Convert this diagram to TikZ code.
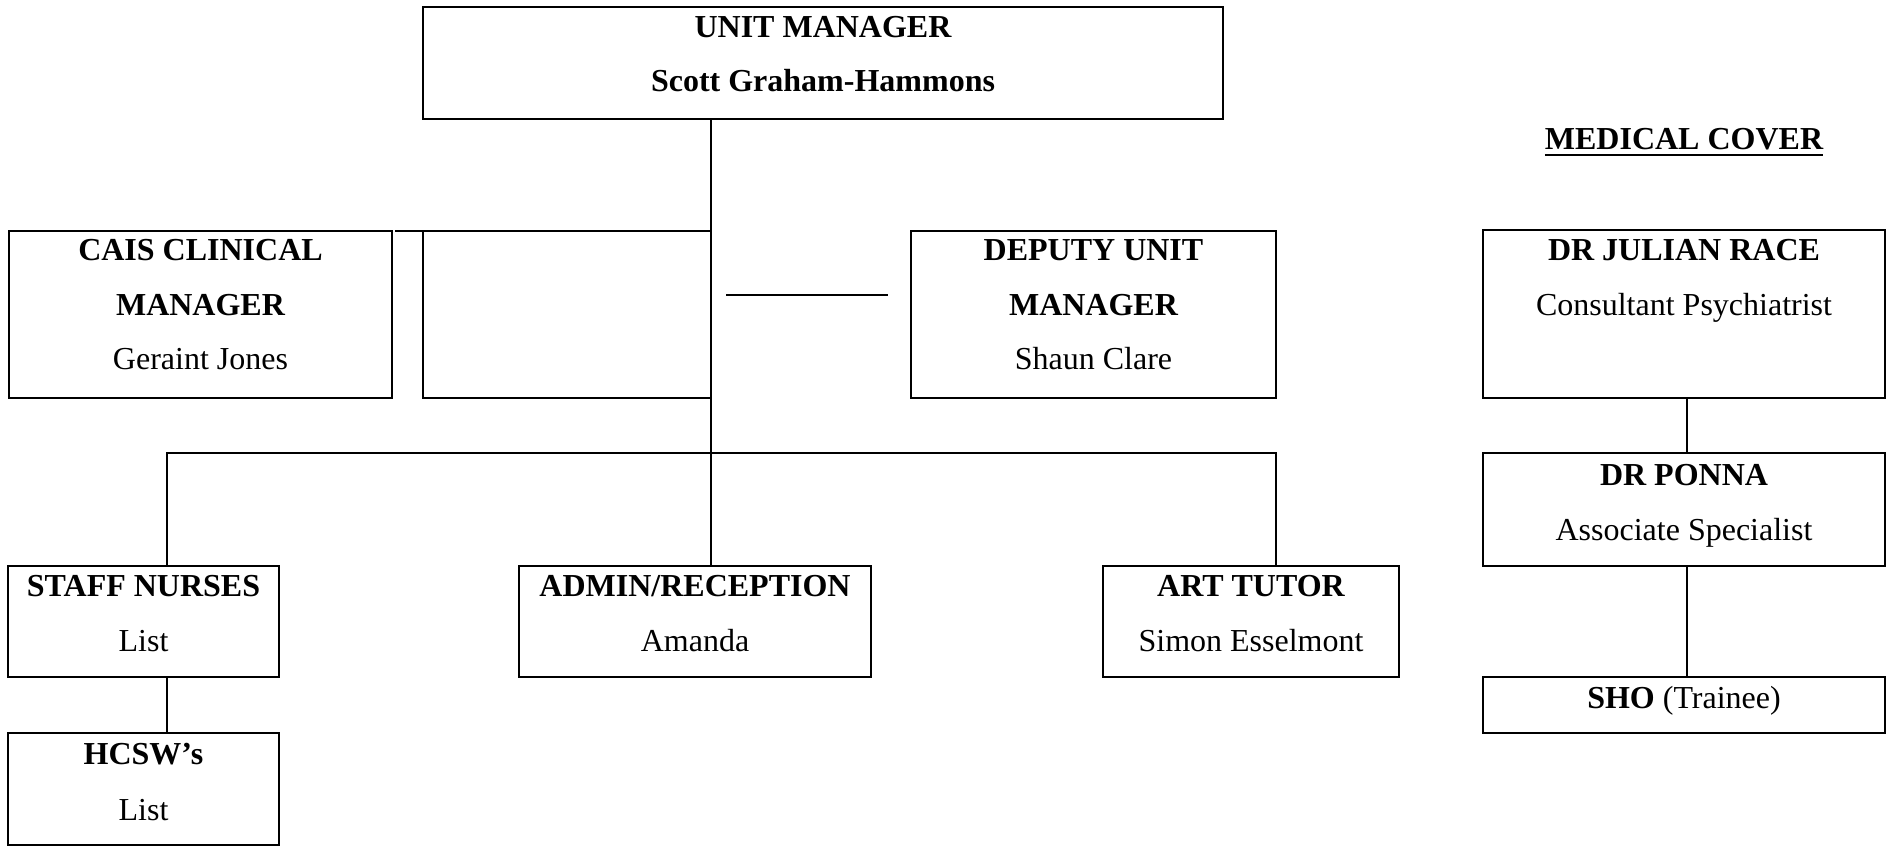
\documentclass[tikz,border=0pt]{standalone}
\usepackage{fontspec}
\setmainfont{Liberation Serif}
\begin{document}
\begin{tikzpicture}[x=1pt,y=-1pt,
  box/.style={draw=black,line width=2pt,inner sep=0pt,outer sep=0pt,anchor=north west},
  conn/.style={draw=black,line width=2pt},
  txt/.style={inner sep=0pt,outer sep=0pt,anchor=base,font=\fontsize{32}{38}\selectfont},
  btxt/.style={txt,font=\fontsize{32}{38}\selectfont\bfseries}]
\useasboundingbox (0,0) rectangle (1889,846);
\fill[white] (0,0) rectangle (1889,846);
% boxes
\node[box,minimum width=800pt,minimum height=112pt] (um) at (423,7) {};
\node[box,minimum width=383pt,minimum height=167pt] (cais) at (9,231) {};
\node[box,minimum width=288pt,minimum height=167pt] (blank) at (423,231) {};
\node[box,minimum width=365pt,minimum height=167pt] (dep) at (911,231) {};
\node[box,minimum width=271pt,minimum height=111pt] (staff) at (8,566) {};
\node[box,minimum width=352pt,minimum height=111pt] (admin) at (519,566) {};
\node[box,minimum width=296pt,minimum height=111pt] (art) at (1103,566) {};
\node[box,minimum width=271pt,minimum height=112pt] (hcsw) at (8,733) {};
\node[box,minimum width=402pt,minimum height=168pt] (julian) at (1483,230) {};
\node[box,minimum width=402pt,minimum height=113pt] (ponna) at (1483,453) {};
\node[box,minimum width=402pt,minimum height=56pt] (sho) at (1483,677) {};
% texts
\node[btxt] (um1) at (823,37) {UNIT MANAGER};
\node[btxt] (um2) at (823,91) {Scott Graham-Hammons};
\node[btxt] (ca1) at (200.5,260) {CAIS CLINICAL};
\node[btxt] (ca2) at (200.5,315) {MANAGER};
\node[txt]  (ca3) at (200.5,369) {Geraint Jones};
\node[btxt] (de1) at (1093.5,260) {DEPUTY UNIT};
\node[btxt] (de2) at (1093.5,315) {MANAGER};
\node[txt]  (de3) at (1093.5,369) {Shaun Clare};
\node[btxt] (st1) at (143.5,596) {STAFF NURSES};
\node[txt]  (st2) at (143.5,651) {List};
\node[btxt] (ad1) at (695,596) {ADMIN/RECEPTION};
\node[txt]  (ad2) at (695,651) {Amanda};
\node[btxt] (ar1) at (1251,596) {ART TUTOR};
\node[txt]  (ar2) at (1251,651) {Simon Esselmont};
\node[btxt] (hc1) at (143.5,764) {HCSW’s};
\node[txt]  (hc2) at (143.5,820) {List};
\node[btxt] (mc) at (1684,149) {MEDICAL COVER};
\node[btxt] (ju1) at (1684,260) {DR JULIAN RACE};
\node[txt]  (ju2) at (1684,315) {Consultant Psychiatrist};
\node[btxt] (po1) at (1684,485) {DR PONNA};
\node[txt]  (po2) at (1684,540) {Associate Specialist};
\node[txt]  (sh1) at (1684,708) {\textbf{SHO} (Trainee)};
% underline
\coordinate (ul) at (0,155);
\draw[conn] (mc.west |- ul) -- (mc.east |- ul);
% connectors
\coordinate (trunk) at (711,453);
\coordinate (bl) at (167,453);
\coordinate (br) at (1276,453);
\coordinate (med) at (1687,0);
\draw[conn] (um.south -| trunk) -- (trunk);
\draw[conn] ([xshift=3pt]cais.north east) -- (blank.north west);
\coordinate (s1) at (726,295);
\coordinate (s2) at (888,295);
\draw[conn] (s1) -- (s2);
\draw[conn] (bl |- staff.north) -- (bl) -- (br) -- (br |- art.north);
\draw[conn] (trunk) -- (trunk |- admin.north);
\draw[conn] (bl |- staff.south) -- (bl |- hcsw.north);
\draw[conn] (med |- julian.south) -- (med |- ponna.north);
\draw[conn] (med |- ponna.south) -- (med |- sho.north);
\end{tikzpicture}
\end{document}
